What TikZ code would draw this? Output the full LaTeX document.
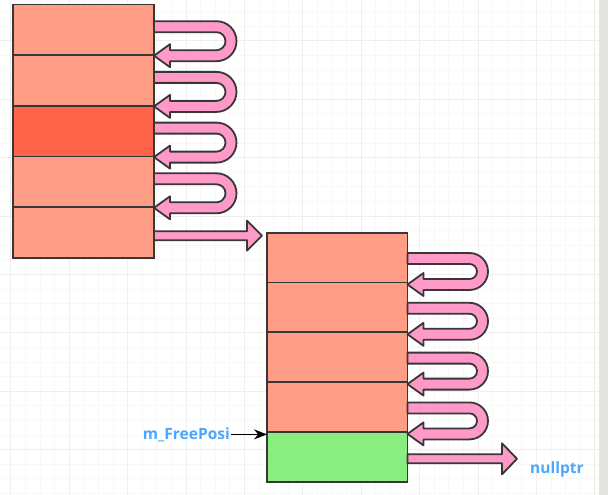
\documentclass[tikz,border=0pt]{standalone}
\usepackage{fontspec}
\setsansfont{Open Sans}
\usepackage{tikz}
\usepackage{xcolor}
\usetikzlibrary{calc,arrows.meta}

\definecolor{cell}{RGB}{255,157,135}
\definecolor{cellsel}{RGB}{255,100,75}
\definecolor{freecell}{RGB}{136,238,128}
\definecolor{link}{RGB}{255,154,200}
\definecolor{rim}{RGB}{55,55,55}
\definecolor{ptrblue}{RGB}{74,166,255}
\definecolor{gridminor}{RGB}{248,248,247}
\definecolor{gridmajor}{RGB}{238,238,236}
\definecolor{sidebar}{RGB}{230,228,224}

% #1 lower cell, #2 tip shift, #3 bend radius, #4 straight part
\newcommand{\loopback}[4]{%
  \filldraw[linkarrow] ([yshift=#2]#1.north east) -- ++(16,11.5) -- ++(0,-6) -- ++(#4-16,0)
    arc[start angle=-90, end angle=90, radius={#3pt-5.5pt}] -- ++(-#4,0) -- ++(0,11) -- ++(#4,0)
    arc[start angle=90, end angle=-90, radius={#3pt+5.5pt}] -- ++(-#4+16,0) -- ++(0,-6) -- cycle;}

% #1 start, #2 tip, #3 head half width
\newcommand{\fatarrow}[3]{%
  \filldraw[linkarrow] let \p1=(#1), \p2=(#2) in
    (\x1,\y1+4.5pt) -- (\x2-15pt,\y1+4.5pt) -- (\x2-15pt,\y1+#3pt) -- (\x2,\y1)
    -- (\x2-15pt,\y1-#3pt) -- (\x2-15pt,\y1-4.5pt) -- (\x1,\y1-4.5pt) -- cycle;}

\begin{document}
\begin{tikzpicture}[x=1pt, y=1pt,
    slot/.style={draw=rim, line width=1.7pt, fill=cell, minimum width=141.3pt,
      minimum height=50.7pt, inner sep=0pt, outer sep=0pt},
    linkarrow/.style={draw=rim, line width=1.8pt, fill=link, line join=round},
    ptrlabel/.style={text=ptrblue, font=\sffamily\bfseries\fontsize{15.5}{18}\selectfont, inner sep=1pt}]
    \useasboundingbox (0,0) rectangle (608,-495);
    \fill[white] (0,0) rectangle (608,-495);
    \draw[gridminor, line width=0.6pt, step=14.6, shift={(10.7,-40.7)}] (-11,-455) grid (589,41);
    \draw[gridmajor, line width=0.8pt, step=58.4, shift={(10.7,-40.7)}] (-11,-455) grid (589,41);
    \fill[sidebar] (599,0) rectangle (608,-495);

    \node [slot] (a1) at (83.35,-29.85) {};
    \node [slot] (a2) at (83.35,-80.55) {};
    \node [slot, fill=cellsel] (a3) at (83.35,-131.25) {};
    \node [slot] (a4) at (83.35,-181.95) {};
    \node [slot] (a5) at (83.35,-232.65) {};

    \node [slot, minimum width=140.5pt, minimum height=49.8pt] (b1) at (337.25,-257.6) {};
    \node [slot, minimum width=140.5pt, minimum height=49.8pt] (b2) at (337.25,-307.4) {};
    \node [slot, minimum width=140.5pt, minimum height=49.8pt] (b3) at (337.25,-357.2) {};
    \node [slot, minimum width=140.5pt, minimum height=49.8pt] (b4) at (337.25,-407.0) {};
    \node [slot, minimum width=140.5pt, minimum height=49.8pt, fill=freecell] (b5) at (337.25,-456.8) {};

    \loopback{a2}{-0.5}{14.5}{62.5}
    \loopback{a3}{-0.5}{14.5}{62.5}
    \loopback{a4}{-0.5}{14.5}{62.5}
    \loopback{a5}{-0.5}{14.5}{62.5}

    \loopback{b2}{-2}{13}{62}
    \loopback{b3}{-2}{13}{62}
    \loopback{b4}{-2}{13}{62}
    \loopback{b5}{-2}{13}{62}

    \coordinate (s1) at ([yshift=-3]a5.east);
    \coordinate (t1) at ([xshift=-5]b1.north west);
    \fatarrow{s1}{t1}{15}

    \coordinate (s2) at ([yshift=-2]b5.east);
    \coordinate (nul) at ($(s2)+(109.5,0)$);
    \fatarrow{s2}{nul}{15.5}

    \node [ptrlabel, anchor=west] (np) at ([xshift=12, yshift=-10.5]nul) {nullptr};
    \node [ptrlabel, anchor=east] (fp) at ([xshift=-36, yshift=-2.5]b5.north west) {m\_FreePosi};
    \draw [line width=1.6pt, -{Stealth[length=13pt, width=10pt]}] (fp.east) -- (fp.east -| b5.west);
\end{tikzpicture}
\end{document}
